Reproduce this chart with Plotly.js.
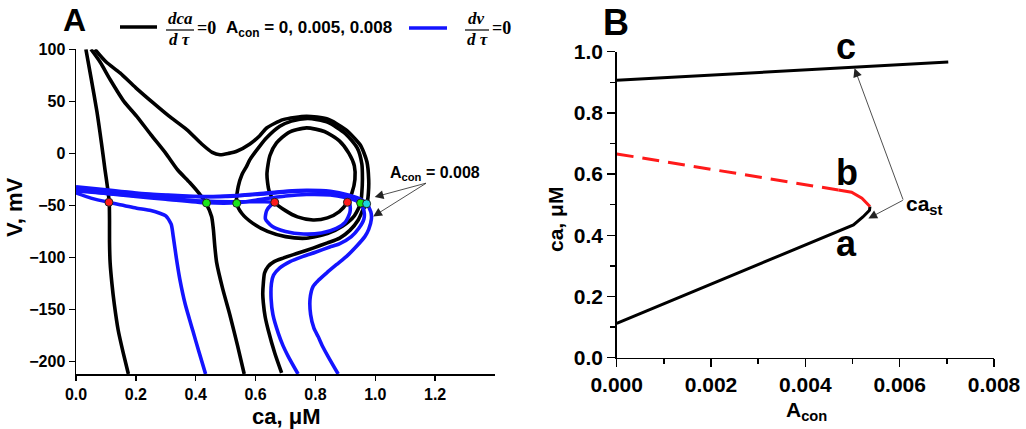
<!DOCTYPE html>
<html>
<head>
<meta charset="utf-8">
<script src="https://cdn.plot.ly/plotly-3.0.1.min.js"></script>
<style>body{margin:0;padding:0;background:#fff;} #plot{width:1026px;height:429px;}</style>
</head>
<body>
<div id="plot"></div>
<script>
// ---------- Panel A data: ca (uM), V (mV) ----------
// dca/dtau = 0 nullclines (black)
const blackA0_ca = [0.033,0.05,0.07,0.085,0.097,0.105,0.111,0.112,0.112,0.114,0.12,0.128,0.141,0.158,0.175];
const blackA0_v  = [100,73,40,10,-16,-32,-47,-65,-85,-105,-125,-145,-170,-192,-212];
const blackA0loop_ca = [0.638,0.648,0.67,0.71,0.77,0.83,0.88,0.912,0.93,0.932,0.922,0.907,0.88,0.84,0.792,0.74,0.7,0.664,0.645,0.638];
const blackA0loop_v  = [-20,-2,10,20,24.5,21,12,0,-12,-25,-38,-47,-56,-62,-64,-61,-55,-47,-36,-20];
const blackA005_ca = [0.05,0.08,0.114,0.16,0.203,0.25,0.3,0.34,0.38,0.41,0.434,0.453,0.459,0.464,0.47,0.49,0.514,0.54,0.562];
const blackA005_v  = [100,88,71,50,35.6,18,0,-16,-28,-38,-47.7,-60.6,-73,-90,-105,-130,-155,-185,-212];
const blackA005loop_ca = [0.537,0.542,0.555,0.57,0.581,0.614,0.637,0.681,0.72,0.775,0.84,0.9,0.94,0.955,0.957,0.955,0.951,0.93,0.89,0.84,0.77,0.7,0.64,0.59,0.555,0.537];
const blackA005loop_v  = [-48,-32,-20,-12.5,-6,7,15,26,31,33.5,30,19,5,-10,-25,-38,-48,-60,-70,-77,-81.5,-80,-75,-67,-58,-48];
const blackA008_ca = [0.063,0.1,0.147,0.2,0.258,0.31,0.37,0.42,0.455,0.481,0.51,0.537,0.581,0.614,0.637,0.692,0.77,0.84,0.9,0.95,0.972,0.978,0.977,0.972,0.959,0.943,0.915,0.881,0.84,0.792,0.74,0.692,0.662,0.642,0.63,0.626,0.624,0.626,0.632,0.642,0.664,0.687];
const blackA008_v  = [100,88,77.3,63,48.5,36,22.8,9,1,-1.3,0,2,9,17,24.4,32.4,35.6,33,23,8,-8,-25,-38,-48.4,-54,-64,-74,-81.4,-86,-91,-96,-100.6,-104,-108.6,-115,-124.6,-135,-143.8,-157,-169.5,-191.9,-211];
// dv/dtau = 0 nullclines (blue)
const blueA0low_ca = [0,0.05,0.108,0.16,0.2,0.25,0.28,0.3,0.318,0.325,0.335,0.347,0.365,0.39,0.41,0.433];
const blueA0low_v  = [-38,-43,-47,-50,-52.5,-55,-57.5,-60,-68,-80,-100,-121,-145,-170,-190,-212];
const blueA0fold_ca = [0,0.1,0.2,0.3,0.4,0.5,0.6,0.7,0.77,0.84,0.88,0.905,0.915,0.915,0.9,0.87,0.82,0.76,0.7,0.655,0.633,0.637,0.652,0.664,0.62,0.55,0.45,0.35,0.25,0.15,0];
const blueA0fold_v  = [-33.5,-36,-38.5,-40.5,-41.5,-41.5,-39.5,-37,-36,-37,-39.5,-43,-49,-57,-66,-72,-76.5,-77.5,-75,-70,-63,-55,-49.5,-47,-46.5,-46.5,-46,-44.5,-42,-39.5,-36];
const blueA005_ca = [0,0.1,0.2,0.3,0.436,0.539,0.6,0.7,0.77,0.85,0.9,0.94,0.951,0.962,0.962,0.945,0.92,0.88,0.848,0.8,0.759,0.715,0.681,0.66,0.653,0.652,0.658,0.676,0.692,0.709,0.742];
const blueA005_v  = [-35,-38.5,-41.5,-44,-47.5,-47.5,-45,-41,-39.5,-40,-42.5,-46,-48,-55,-63,-72,-80,-87,-90,-95,-99,-104,-110,-117,-125,-140,-155,-173,-185,-195,-212];
const blueA008_ca = [0,0.1,0.2,0.3,0.4,0.5,0.6,0.7,0.77,0.85,0.91,0.95,0.971,0.985,0.987,0.978,0.965,0.935,0.904,0.87,0.837,0.81,0.792,0.782,0.784,0.795,0.809,0.825,0.842,0.876];
const blueA008_v  = [-32,-35,-38,-40,-41.5,-41,-39,-36.5,-35.5,-36.5,-40,-44,-48.4,-56,-63,-73,-80,-90,-99,-107,-115,-122,-128,-140,-155,-168,-176,-186,-195,-212];
// equilibria
const dots_ca = [0.11,0.664,0.907,0.436,0.537,0.951,0.971];
const dots_v  = [-47,-47,-47,-47.7,-48,-47.7,-48.4];
const dots_col = ['#ff1a1a','#ff1a1a','#ff1a1a','#19e619','#19e619','#19e619','#19d6e0'];
const xTicksA = [0,0.2,0.4,0.6,0.8,1.0,1.2];
const xTickTextA = ['0.0','0.2','0.4','0.6','0.8','1.0','1.2'];
const yTicksA = [-200,-150,-100,-50,0,50,100];

// ---------- Panel B data: ca_st vs A_con ----------
const branchC_a = [0,0.00703];
const branchC_ca = [0.907,0.966];
const branchA_a = [0,0.00502,0.00522,0.00536,0.00537];
const branchA_ca = [0.112,0.434,0.46,0.482,0.494];
const branchBdash_a = [0,0.0047];
const branchBdash_ca = [0.666,0.548];
const branchBsolid_a = [0.0047,0.00498,0.0052,0.00537];
const branchBsolid_ca = [0.548,0.541,0.521,0.494];

const W = 1026, H = 429;
const PX = x => x / W, PY = y => 1 - y / H;
const SANS = 'Liberation Sans, Arial, sans-serif';
const SERIF = 'Liberation Serif, Times New Roman, serif';

function ln(x, y, color, width, xa, ya, dash, shape) {
  return {x: x, y: y, type: 'scatter', mode: 'lines', xaxis: xa, yaxis: ya, hoverinfo: 'skip',
          line: {color: color, width: width, dash: dash || 'solid', shape: shape || 'spline', smoothing: 0.65}};
}
const K = '#000000', BL = '#1414ff';
const traces = [
  ln(blackA0_ca, blackA0_v, K, 3.6, 'x', 'y'),
  ln(blackA0loop_ca, blackA0loop_v, K, 3.6, 'x', 'y'),
  ln(blackA005_ca, blackA005_v, K, 3.6, 'x', 'y'),
  ln(blackA005loop_ca, blackA005loop_v, K, 3.6, 'x', 'y'),
  ln(blackA008_ca, blackA008_v, K, 3.6, 'x', 'y'),
  ln(blueA0low_ca, blueA0low_v, BL, 3.6, 'x', 'y'),
  ln(blueA0fold_ca, blueA0fold_v, BL, 3.6, 'x', 'y'),
  ln(blueA005_ca, blueA005_v, BL, 3.6, 'x', 'y'),
  ln(blueA008_ca, blueA008_v, BL, 3.6, 'x', 'y'),
  {x: dots_ca, y: dots_v, type: 'scatter', mode: 'markers', xaxis: 'x', yaxis: 'y', hoverinfo: 'skip',
   marker: {size: 8, color: dots_col, line: {color: '#222', width: 1}}},
  ln(branchC_a, branchC_ca, K, 3, 'x2', 'y2', 'solid', 'linear'),
  ln(branchA_a, branchA_ca, K, 3, 'x2', 'y2', 'solid', 'linear'),
  ln(branchBdash_a, branchBdash_ca, '#ff1a1a', 3, 'x2', 'y2', '17px,9px', 'linear'),
  ln(branchBsolid_a, branchBsolid_ca, '#ff1a1a', 3, 'x2', 'y2', 'solid', 'linear')
];

const tickFontA = {family: SANS, size: 16, color: '#000', weight: 'bold'};
const tickFontB = {family: SANS, size: 21, color: '#000', weight: 'bold'};

function txt(text, x, y, size, opts) {
  return Object.assign({text: text, xref: 'paper', yref: 'paper', x: PX(x), y: PY(y), showarrow: false,
    xanchor: 'center', yanchor: 'middle', font: {family: SANS, size: size, color: '#000', weight: 'bold'}}, opts || {});
}
function arrow(xr, yr, hx, hy, tx, ty) {
  return {text: '', xref: xr, yref: yr, axref: xr, ayref: yr, x: hx, y: hy, ax: tx, ay: ty,
    showarrow: true, arrowhead: 2, arrowsize: 2.2, arrowwidth: 0.8, arrowcolor: '#222', borderpad: 0, standoff: 0};
}

const annotations = [
  txt('A', 74, 20, 32),
  txt('B', 616, 23, 36),
  // legend
  txt('<i>dca</i>', 180, 19, 17, {font: {family: SERIF, size: 17, color: '#000', weight: 'bold'}}),
  txt('<i>d τ</i>', 179, 40, 17, {font: {family: SERIF, size: 17, color: '#000', weight: 'bold'}}),
  txt('=0', 206.5, 28, 18, {font: {family: SERIF, size: 18, color: '#000', weight: 'bold'}}),
  txt('A<sub>con</sub> = 0, 0.005, 0.008', 309, 29, 17),
  txt('<i>dv</i>', 476, 19, 17, {font: {family: SERIF, size: 17, color: '#000', weight: 'bold'}}),
  txt('<i>d τ</i>', 477, 40, 17, {font: {family: SERIF, size: 17, color: '#000', weight: 'bold'}}),
  txt('=0', 501, 28, 18, {font: {family: SERIF, size: 18, color: '#000', weight: 'bold'}}),
  // panel A annotation
  txt('A<sub>con</sub> = 0.008', 435, 173, 16),
  arrow('x', 'y', 0.998, -41.9, 1.171, -28.5),
  arrow('x', 'y', 0.993, -60.6, 1.171, -28.5),
  // axis titles
  txt('ca, μM', 286, 416, 22),
  txt('V, mV', 14, 208, 22, {textangle: -90}),
  txt('A<sub>con</sub>', 806, 411, 21),
  txt('ca, μM', 556, 220, 21, {textangle: -90}),
  // panel B labels
  txt('c', 846, 46, 36),
  txt('b', 847, 172, 36),
  txt('a', 846, 243, 36),
  txt('ca<sub>st</sub>', 904, 205, 21, {xanchor: 'left'}),
  arrow('x2', 'y2', 0.005042, 0.946, 0.006076, 0.515),
  arrow('x2', 'y2', 0.005336, 0.455, 0.006076, 0.515)
];

const shapes = [
  {type: 'line', xref: 'paper', yref: 'paper', x0: PX(120), x1: PX(157), y0: PY(27), y1: PY(27), line: {color: '#000', width: 3.5}},
  {type: 'line', xref: 'paper', yref: 'paper', x0: PX(166), x1: PX(194), y0: PY(30), y1: PY(30), line: {color: '#000', width: 1.2}},
  {type: 'line', xref: 'paper', yref: 'paper', x0: PX(409), x1: PX(447), y0: PY(28), y1: PY(28), line: {color: BL, width: 3.5}},
  {type: 'line', xref: 'paper', yref: 'paper', x0: PX(465), x1: PX(489), y0: PY(30), y1: PY(30), line: {color: '#000', width: 1.2}}
];

const axBase = {showgrid: false, zeroline: false, showline: true, linecolor: '#000', linewidth: 1.5,
  ticks: 'outside', tickcolor: '#000', tickwidth: 1.5, mirror: false, fixedrange: true};

const layout = {
  width: W, height: H, margin: {l: 0, r: 0, t: 0, b: 0}, paper_bgcolor: '#fff', plot_bgcolor: 'rgba(0,0,0,0)',
  showlegend: false,
  xaxis: Object.assign({}, axBase, {domain: [PX(76), PX(495)], range: [0, 1.4], tickvals: xTicksA, ticktext: xTickTextA,
    ticklen: 5, tickfont: tickFontA, anchor: 'y'}),
  yaxis: Object.assign({}, axBase, {domain: [PY(374), PY(49.3)], range: [-212, 100], tickvals: yTicksA,
    ticklen: 6, tickfont: tickFontA, anchor: 'x'}),
  xaxis2: Object.assign({}, axBase, {domain: [PX(616.7), PX(994)], range: [0, 0.008], tick0: 0, dtick: 0.002,
    tickformat: '.3f', ticklen: 8, tickfont: tickFontB, anchor: 'y2',
    minor: {dtick: 0.001, ticklen: 5, tickcolor: '#000', tickwidth: 1.5, ticks: 'outside'}}),
  yaxis2: Object.assign({}, axBase, {domain: [PY(357.7), PY(51.7)], range: [0, 1.0], tick0: 0, dtick: 0.2,
    tickformat: '.1f', ticklen: 8, tickfont: tickFontB, anchor: 'x2',
    minor: {dtick: 0.1, ticklen: 5, tickcolor: '#000', tickwidth: 1.5, ticks: 'outside'}}),
  annotations: annotations,
  shapes: shapes
};

Plotly.newPlot('plot', traces, layout, {staticPlot: true, displayModeBar: false});
</script>
</body>
</html>
